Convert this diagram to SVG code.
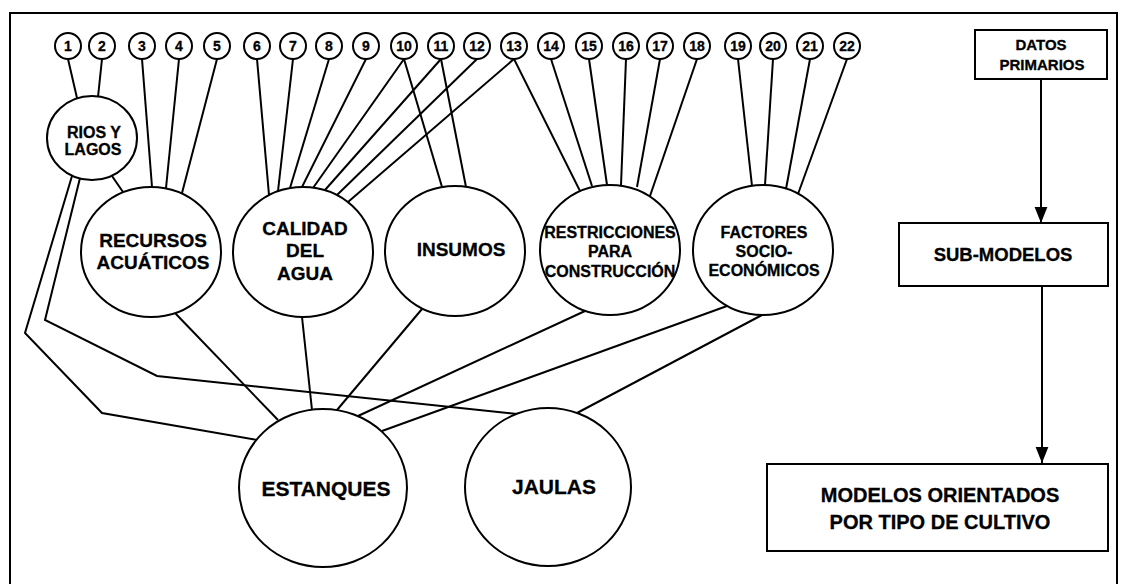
<svg xmlns="http://www.w3.org/2000/svg" width="1124" height="584" viewBox="0 0 1124 584">
  <style>
    text { font-family: "Liberation Sans", Arial, sans-serif; font-weight: bold; fill: #000; text-anchor: middle; stroke: #000; stroke-width: 0.3; }
    .shape { fill: #fff; stroke: #000; stroke-width: 2; }
    .frame { fill: none; stroke: #000; stroke-width: 2; }
    .num { font-size: 14px; }
    .lg { font-size: 21px; }
    .md { font-size: 19px; }
    .sm { font-size: 16px; }
    #connectors line, #connectors polyline { stroke: #000; stroke-width: 2; fill: none; }
  </style>
  <defs>
    <marker id="arrow" markerUnits="userSpaceOnUse" markerWidth="16" markerHeight="22" refX="20" refY="8" orient="auto" viewBox="0 0 20 16">
      <path d="M0,0 L20,8 L0,16 Z" fill="#000"/>
    </marker>
  </defs>

  <rect width="1124" height="584" fill="#fff"/>
  <!-- outer frame -->
  <path class="frame" d="M10,590 V13 H1117 V590"/>

  <!-- connectors -->
  <g id="connectors">
    <line x1="68" y1="59" x2="77" y2="98"/>
    <line x1="102" y1="59" x2="98" y2="97"/>
    <line x1="142" y1="59" x2="152" y2="187"/>
    <line x1="179" y1="59" x2="166" y2="188"/>
    <line x1="217" y1="59" x2="182" y2="193"/>
    <line x1="257" y1="59" x2="269" y2="195"/>
    <line x1="293" y1="59" x2="278" y2="191"/>
    <line x1="329" y1="59" x2="290" y2="188"/>
    <line x1="366" y1="59" x2="302" y2="187"/>
    <line x1="404" y1="59" x2="313" y2="188"/>
    <line x1="404" y1="59" x2="442" y2="187"/>
    <line x1="441" y1="59" x2="325" y2="190"/>
    <line x1="441" y1="59" x2="466" y2="187"/>
    <line x1="477" y1="59" x2="337" y2="195"/>
    <line x1="514" y1="59" x2="348" y2="202"/>
    <line x1="514" y1="59" x2="580" y2="191"/>
    <line x1="551" y1="59" x2="592" y2="186"/>
    <line x1="589" y1="59" x2="607" y2="185"/>
    <line x1="626" y1="59" x2="621" y2="185"/>
    <line x1="660" y1="59" x2="637" y2="187"/>
    <line x1="697" y1="59" x2="650" y2="196"/>
    <line x1="738" y1="59" x2="752" y2="186"/>
    <line x1="773" y1="59" x2="765" y2="185"/>
    <line x1="810" y1="59" x2="786" y2="189"/>
    <line x1="847" y1="59" x2="798" y2="194"/>

    <line x1="112" y1="176" x2="123" y2="192"/>
    <polyline points="72,176 25,333 102,413 257,440"/>
    <polyline points="80,178 45,320 157,376 517,414"/>
    <line x1="175" y1="313" x2="278" y2="420"/>
    <line x1="302" y1="317" x2="312" y2="410"/>
    <line x1="422" y1="309" x2="337" y2="410"/>
    <line x1="585" y1="311" x2="358" y2="416"/>
    <line x1="727" y1="306" x2="382" y2="431"/>
    <line x1="762" y1="315" x2="577" y2="413"/>

    <line x1="1041" y1="79" x2="1041" y2="223" marker-end="url(#arrow)"/>
    <line x1="1042" y1="286" x2="1042" y2="463" marker-end="url(#arrow)"/>
  </g>

  <!-- numbered data sources -->
  <g id="n1"><circle class="shape" cx="68" cy="46" r="13"/><text class="num" x="68" y="51">1</text></g>
  <g id="n2"><circle class="shape" cx="102" cy="46" r="13"/><text class="num" x="102" y="51">2</text></g>
  <g id="n3"><circle class="shape" cx="142" cy="46" r="13"/><text class="num" x="142" y="51">3</text></g>
  <g id="n4"><circle class="shape" cx="179" cy="46" r="13"/><text class="num" x="179" y="51">4</text></g>
  <g id="n5"><circle class="shape" cx="217" cy="46" r="13"/><text class="num" x="217" y="51">5</text></g>
  <g id="n6"><circle class="shape" cx="257" cy="46" r="13"/><text class="num" x="257" y="51">6</text></g>
  <g id="n7"><circle class="shape" cx="293" cy="46" r="13"/><text class="num" x="293" y="51">7</text></g>
  <g id="n8"><circle class="shape" cx="329" cy="46" r="13"/><text class="num" x="329" y="51">8</text></g>
  <g id="n9"><circle class="shape" cx="366" cy="46" r="13"/><text class="num" x="366" y="51">9</text></g>
  <g id="n10"><circle class="shape" cx="404" cy="46" r="13"/><text class="num" x="404" y="51">10</text></g>
  <g id="n11"><circle class="shape" cx="441" cy="46" r="13"/><text class="num" x="441" y="51">11</text></g>
  <g id="n12"><circle class="shape" cx="477" cy="46" r="13"/><text class="num" x="477" y="51">12</text></g>
  <g id="n13"><circle class="shape" cx="514" cy="46" r="13"/><text class="num" x="514" y="51">13</text></g>
  <g id="n14"><circle class="shape" cx="551" cy="46" r="13"/><text class="num" x="551" y="51">14</text></g>
  <g id="n15"><circle class="shape" cx="589" cy="46" r="13"/><text class="num" x="589" y="51">15</text></g>
  <g id="n16"><circle class="shape" cx="626" cy="46" r="13"/><text class="num" x="626" y="51">16</text></g>
  <g id="n17"><circle class="shape" cx="660" cy="46" r="13"/><text class="num" x="660" y="51">17</text></g>
  <g id="n18"><circle class="shape" cx="697" cy="46" r="13"/><text class="num" x="697" y="51">18</text></g>
  <g id="n19"><circle class="shape" cx="738" cy="46" r="13"/><text class="num" x="738" y="51">19</text></g>
  <g id="n20"><circle class="shape" cx="773" cy="46" r="13"/><text class="num" x="773" y="51">20</text></g>
  <g id="n21"><circle class="shape" cx="810" cy="46" r="13"/><text class="num" x="810" y="51">21</text></g>
  <g id="n22"><circle class="shape" cx="847" cy="46" r="13"/><text class="num" x="847" y="51">22</text></g>

  <!-- sub-models -->
  <g id="rios-lagos">
    <ellipse class="shape" cx="92" cy="138" rx="45" ry="42"/>
    <text class="sm" x="94" y="138">RIOS Y</text>
    <text class="sm" x="93" y="155">LAGOS</text>
  </g>
  <g id="recursos">
    <ellipse class="shape" cx="151" cy="252" rx="70" ry="65"/>
    <text class="md" x="153" y="247">RECURSOS</text>
    <text class="md" x="153" y="269">ACUÁTICOS</text>
  </g>
  <g id="calidad">
    <ellipse class="shape" cx="303" cy="252" rx="70" ry="65"/>
    <text class="md" x="305" y="235">CALIDAD</text>
    <text class="md" x="305" y="257">DEL</text>
    <text class="md" x="305" y="280">AGUA</text>
  </g>
  <g id="insumos">
    <ellipse class="shape" cx="455" cy="251" rx="70" ry="65"/>
    <text class="md" x="461" y="256">INSUMOS</text>
  </g>
  <g id="restricciones">
    <ellipse class="shape" cx="610" cy="250" rx="70" ry="65"/>
    <text class="sm" x="610" y="238">RESTRICCIONES</text>
    <text class="sm" x="610" y="257">PARA</text>
    <text class="sm" x="610" y="277">CONSTRUCCIÓN</text>
  </g>
  <g id="factores">
    <ellipse class="shape" cx="763" cy="250" rx="70" ry="65"/>
    <text class="sm" x="764" y="238">FACTORES</text>
    <text class="sm" x="764" y="257">SOCIO-</text>
    <text class="sm" x="764" y="276">ECONÓMICOS</text>
  </g>

  <!-- culture types -->
  <g id="estanques">
    <ellipse class="shape" cx="323" cy="488" rx="84" ry="79"/>
    <text class="lg" x="326" y="496">ESTANQUES</text>
  </g>
  <g id="jaulas">
    <ellipse class="shape" cx="548" cy="487" rx="83" ry="79"/>
    <text class="lg" x="554" y="494">JAULAS</text>
  </g>

  <!-- legend flow -->
  <g id="datos">
    <rect class="shape" x="975" y="30" width="132" height="49"/>
    <text x="1041" y="50" style="font-size:15px">DATOS</text>
    <text x="1042" y="70" style="font-size:15px">PRIMARIOS</text>
  </g>
  <g id="submodelos">
    <rect class="shape" x="899" y="223" width="209" height="63"/>
    <text x="1003" y="261" style="font-size:18.5px">SUB-MODELOS</text>
  </g>
  <g id="modelos">
    <rect class="shape" x="767" y="464" width="341" height="87"/>
    <text x="940" y="502" style="font-size:20px">MODELOS ORIENTADOS</text>
    <text x="940" y="529" style="font-size:20px">POR TIPO DE CULTIVO</text>
  </g>
</svg>
